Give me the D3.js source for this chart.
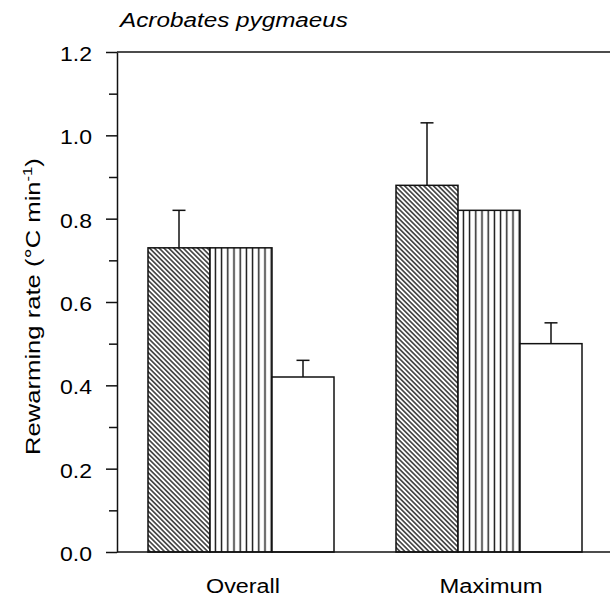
<!DOCTYPE html>
<html>
<head>
<meta charset="utf-8">
<script src="https://cdn.jsdelivr.net/npm/d3@7"></script>
<style>
  html, body { margin: 0; padding: 0; background: #fff; }
  svg { display: block; font-family: "Liberation Sans", Arial, sans-serif; }
</style>
</head>
<body>
<script>
// ---- data ----
const categories = ["Overall", "Maximum"];
const seriesNames = ["Series A", "Series B", "Series C"];
const meanA = [0.73, 0.88];
const meanB = [0.73, 0.82];
const meanC = [0.42, 0.50];
const errA = [0.09, 0.15];
const errB = [0, 0];
const errC = [0.04, 0.05];
const majorTicks = [0, 0.2, 0.4, 0.6, 0.8, 1.0, 1.2];
const minorTicks = [0.1, 0.3, 0.5, 0.7, 0.9, 1.1];
const titleText = "Acrobates pygmaeus";

const W = 610, H = 597;
const svg = d3.select("body").append("svg").attr("width", W).attr("height", H);
const ink = "#111";

const defs = svg.append("defs");
const pd = defs.append("pattern").attr("id", "diag").attr("patternUnits", "userSpaceOnUse")
  .attr("width", 3.4).attr("height", 3.4).attr("patternTransform", "rotate(-45)");
pd.append("rect").attr("width", 3.4).attr("height", 3.4).attr("fill", "#fff");
pd.append("line").attr("x1", 1.7).attr("y1", 0).attr("x2", 1.7).attr("y2", 3.4)
  .attr("stroke", ink).attr("stroke-width", 1.3);
const pv = defs.append("pattern").attr("id", "vert").attr("patternUnits", "userSpaceOnUse")
  .attr("width", 6.2).attr("height", 10).attr("x", 1.5);
pv.append("rect").attr("width", 6.2).attr("height", 10).attr("fill", "#fff");
pv.append("line").attr("x1", 3.1).attr("y1", 0).attr("x2", 3.1).attr("y2", 10)
  .attr("stroke", ink).attr("stroke-width", 1.4);
const fills = ["url(#diag)", "url(#vert)", "#fff"];

const y = d3.scaleLinear().domain([0, 1.2]).range([552, 52]);
const x0 = d3.scaleBand().domain(categories).range([117, 613]).paddingInner(0.25).paddingOuter(0.125);
const x1 = d3.scaleBand().domain(seriesNames).range([0, x0.bandwidth()]).padding(0);

const means = [meanA, meanB, meanC];
const errs = [errA, errB, errC];
const rows = [];
categories.forEach((c, ci) => seriesNames.forEach((s, si) => {
  rows.push({ c, s, si, v: means[si][ci], e: errs[si][ci] });
}));

// bars
svg.append("g").selectAll("rect").data(rows).join("rect")
  .attr("x", d => x0(d.c) + x1(d.s))
  .attr("y", d => y(d.v))
  .attr("width", x1.bandwidth())
  .attr("height", d => y(0) - y(d.v))
  .attr("fill", d => fills[d.si])
  .attr("stroke", ink).attr("stroke-width", 1.5);

// error bars
const eb = svg.append("g").selectAll("g").data(rows.filter(d => d.e > 0)).join("g")
  .attr("stroke", ink).attr("stroke-width", 1.5);
eb.append("line")
  .attr("x1", d => x0(d.c) + x1(d.s) + x1.bandwidth() / 2)
  .attr("x2", d => x0(d.c) + x1(d.s) + x1.bandwidth() / 2)
  .attr("y1", d => y(d.v)).attr("y2", d => y(d.v + d.e));
eb.append("line")
  .attr("x1", d => x0(d.c) + x1(d.s) + x1.bandwidth() / 2 - 6.5)
  .attr("x2", d => x0(d.c) + x1(d.s) + x1.bandwidth() / 2 + 6.5)
  .attr("y1", d => y(d.v + d.e)).attr("y2", d => y(d.v + d.e));

// frame lines (top and bottom)
svg.append("line").attr("x1", 117).attr("x2", W).attr("y1", y(1.2)).attr("y2", y(1.2))
  .attr("stroke", ink).attr("stroke-width", 1.5);
svg.append("line").attr("x1", 117).attr("x2", W).attr("y1", y(0)).attr("y2", y(0))
  .attr("stroke", ink).attr("stroke-width", 1.5);

// y axis
const gy = svg.append("g").attr("transform", "translate(117,0)")
  .call(d3.axisLeft(y).tickValues(majorTicks).tickFormat(d3.format(".1f")).tickSize(11).tickSizeOuter(0).tickPadding(14));
gy.select(".domain").attr("stroke", ink).attr("stroke-width", 1.5);
gy.selectAll(".tick line").attr("stroke", ink).attr("stroke-width", 1.5);
gy.selectAll(".tick text").attr("font-size", 20).attr("fill", "#000")
  .attr("font-family", "Liberation Sans, Arial, sans-serif")
  .attr("dy", "0.43em").attr("textLength", 32).attr("lengthAdjust", "spacingAndGlyphs");
const gm = svg.append("g").attr("transform", "translate(117,0)")
  .call(d3.axisLeft(y).tickValues(minorTicks).tickFormat("").tickSize(8).tickSizeOuter(0));
gm.select(".domain").remove();
gm.selectAll(".tick line").attr("stroke", ink).attr("stroke-width", 1.5);

// category labels
const catLen = { "Overall": 74, "Maximum": 103 };
svg.append("g").selectAll("text").data(categories).join("text")
  .attr("x", d => x0(d) + x0.bandwidth() / 2 + 2)
  .attr("y", 593)
  .attr("text-anchor", "middle")
  .attr("font-size", 20)
  .attr("textLength", d => catLen[d]).attr("lengthAdjust", "spacingAndGlyphs")
  .text(d => d);

// title
svg.append("text").attr("x", 120).attr("y", 27).attr("font-size", 20)
  .attr("font-style", "italic").attr("textLength", 228).attr("lengthAdjust", "spacingAndGlyphs")
  .text(titleText);

// y label
const yl = svg.append("g").attr("transform", "translate(40,306.5) rotate(-90)");
const ylt = yl.append("text").attr("text-anchor", "middle").attr("font-size", 20);
ylt.append("tspan").text("Rewarming rate (°C min");
ylt.append("tspan").attr("font-size", 13).attr("dy", -8).text("-1");
ylt.append("tspan").attr("dy", 8).text(")");
const bw = ylt.node().getBBox().width;
ylt.attr("transform", `scale(${297 / bw},1)`);
</script>
</body>
</html>
